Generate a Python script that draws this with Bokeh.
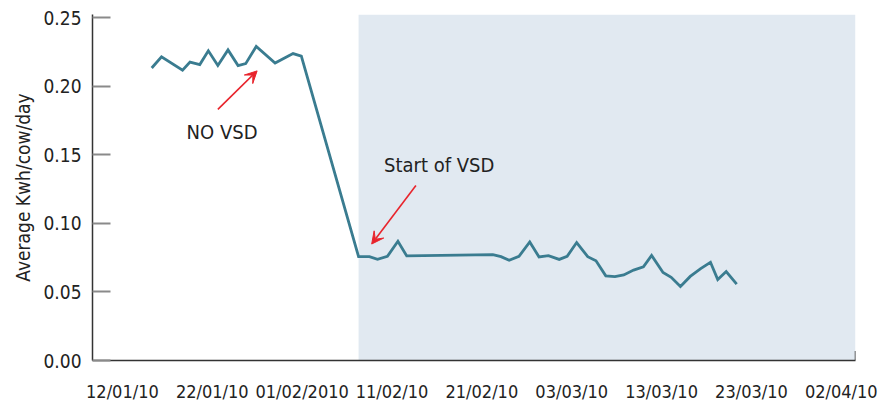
from bokeh.plotting import figure
from bokeh.models import (FixedTicker, BoxAnnotation, Label, Arrow, VeeHead, Range1d)
from bokeh.embed import file_html
from bokeh.resources import INLINE

FONT = "DejaVu Sans Condensed, Roboto"

# x: days since 12/01/10
day = [3.26, 4.35, 6.69, 7.52, 8.61, 9.56, 10.62, 11.75, 12.87, 13.72, 14.89, 16.99, 18.99, 19.91,
       26.28, 27.49, 28.39, 29.49, 30.66, 31.64, 41.22, 42.13, 43.04, 44.13, 45.33, 46.36, 47.41,
       48.61, 49.49, 50.55, 51.78, 52.70, 53.79, 54.81, 55.79, 56.89, 57.98, 58.89, 60.16, 61.07,
       62.10, 63.19, 64.35, 65.44, 66.25, 67.19, 68.36]
kwh = [0.2132, 0.2214, 0.2116, 0.2175, 0.2157, 0.2257, 0.2150, 0.2264, 0.2150, 0.2164, 0.2289, 0.2168, 0.2237, 0.2219,
       0.0757, 0.0757, 0.0737, 0.0759, 0.0869, 0.0762, 0.0771, 0.0757, 0.0730, 0.0759, 0.0864, 0.0755, 0.0764,
       0.0737, 0.0759, 0.0860, 0.0757, 0.0727, 0.0617, 0.0611, 0.0624, 0.0659, 0.0682, 0.0766, 0.0641, 0.0606,
       0.0540, 0.0613, 0.0670, 0.0716, 0.0590, 0.0648, 0.0556]

x_tick_pos = [0, 10, 20, 30, 40, 50, 60, 70, 80]
x_tick_labels = ["12/01/10", "22/01/10", "01/02/2010", "11/02/10", "21/02/10",
                 "03/03/10", "13/03/10", "23/03/10", "02/04/10"]
y_ticks = [0.0, 0.05, 0.10, 0.15, 0.20, 0.25]
vsd_start = 26.28

X0, X1 = -3.33, 81.58
Y0, Y1 = 0.0, 0.2522

p = figure(width=878, height=404, output_backend="svg", toolbar_location=None,
           x_range=Range1d(X0, X1), y_range=Range1d(Y0, Y1),
           min_border_left=92, min_border_right=23, min_border_top=14, min_border_bottom=37)
p.outline_line_color = None
p.grid.visible = False
p.background_fill_color = "white"
p.border_fill_color = "white"

p.add_layout(BoxAnnotation(left=vsd_start, fill_color="#e1e9f1", fill_alpha=1.0,
                           line_color=None, level="underlay"))

p.line(day, kwh, line_color="#3a7c90", line_width=2.8, line_join="miter")

# axes
ya = p.yaxis[0]
ya.ticker = FixedTicker(ticks=y_ticks)
ya.major_label_overrides = {t: f"{t:.2f}" for t in y_ticks}
ya.axis_line_color = "#333333"
ya.axis_line_width = 1.5
ya.major_tick_in = 18
ya.major_tick_out = 0
ya.major_tick_line_color = "#8a8a8a"
ya.major_tick_line_width = 2
ya.minor_tick_line_color = None
ya.major_label_text_font = FONT
ya.major_label_text_font_size = "19px"
ya.major_label_text_color = "#222222"
ya.major_label_standoff = 11
ya.axis_label = "Average Kwh/cow/day"
ya.axis_label_text_font = FONT
ya.axis_label_text_font_size = "19px"
ya.axis_label_text_font_style = "normal"
ya.axis_label_text_color = "#222222"
ya.axis_label_standoff = 6

xa = p.xaxis[0]
xa.ticker = FixedTicker(ticks=x_tick_pos)
xa.major_label_overrides = {t: l for t, l in zip(x_tick_pos, x_tick_labels)}
xa.axis_line_color = "#333333"
xa.axis_line_width = 1.5
xa.major_tick_line_color = None
xa.minor_tick_line_color = None
xa.major_label_text_font = FONT
xa.major_label_text_font_size = "18px"
xa.major_label_text_color = "#222222"
xa.major_label_standoff = 14

# small tick at right end of x axis
p.segment(x0=[X1], y0=[0.0], x1=[X1], y1=[0.007], line_color="#333333", line_width=1.5)

# annotations
p.add_layout(Label(x=11.09, y=0.1665, text="NO VSD", text_font=FONT, text_font_size="20px",
                   text_color="#222222", text_align="center", text_baseline="middle"))
p.add_layout(Label(x=35.25, y=0.1424, text="Start of VSD", text_font=FONT, text_font_size="20px",
                   text_color="#222222", text_align="center", text_baseline="middle"))
p.add_layout(Arrow(end=VeeHead(size=12, fill_color="#e8242c", line_color="#e8242c"),
                   x_start=10.62, y_start=0.183, x_end=14.99, y_end=0.2111,
                   line_color="#e8242c", line_width=1.6))
p.add_layout(Arrow(end=VeeHead(size=12, fill_color="#e8242c", line_color="#e8242c"),
                   x_start=32.66, y_start=0.1276, x_end=27.74, y_end=0.0849,
                   line_color="#e8242c", line_width=1.6))

open("out.html", "w").write(file_html(p, INLINE))
